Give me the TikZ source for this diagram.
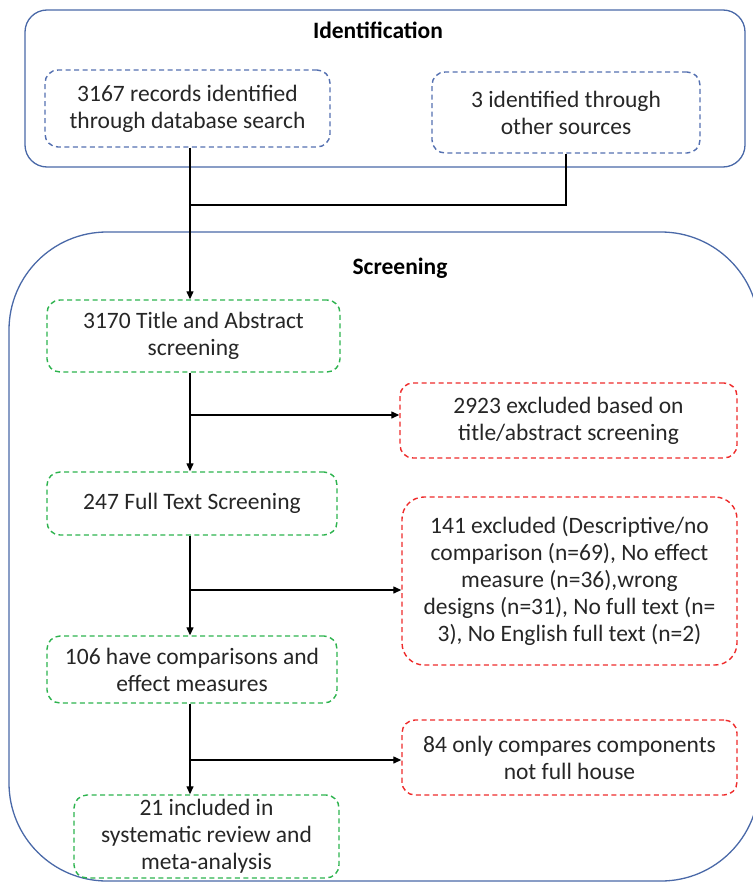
\documentclass[tikz,border=0pt]{standalone}
\usepackage{fontspec}
\setmainfont{Carlito}
\usetikzlibrary{arrows.meta}
\definecolor{frameblue}{HTML}{4A69A8}
\definecolor{dashblue}{HTML}{5470B0}
\definecolor{dashgreen}{HTML}{2DB34E}
\definecolor{dashred}{HTML}{EE2B2B}
\tikzset{
  frame/.style={draw=frameblue, line width=1.3pt},
  title/.style={font=\fontsize{23.5}{27}\selectfont\bfseries},
  box/.style={line width=1.4pt, dash pattern=on 5pt off 3.5pt, rounded corners=13pt,
    align=center, inner sep=0pt, font=\fontsize{23.5}{27}\selectfont, text=black!85},
  bluebox/.style={box, draw=dashblue},
  greenbox/.style={box, draw=dashgreen},
  redbox/.style={box, draw=dashred},
  conn/.style={line width=1.3pt, black},
  arr/.style={conn, -{Triangle[length=8pt,width=7pt]}},
}
\begin{document}
\begin{tikzpicture}[x=1pt,y=-1pt]
\useasboundingbox (0,0) rectangle (752,883);
% frames
\draw[frame, rounded corners=22pt] (25,10) rectangle (745,167);
\draw[frame, rounded corners=98pt] (9,232) rectangle (759,881);
\node[title] (tid) at (378,30) {Identification};
\node[title] (tsc) at (400,268) {Screening};
% boxes
\node[bluebox, minimum width=285pt, minimum height=77pt] (A) at (187.5,108.5) {3167 records identified\\through database search};
\node[bluebox, minimum width=268pt, minimum height=81pt] (B) at (566,112.5) {3 identified through\\other sources};
\node[greenbox, minimum width=293pt, minimum height=72pt] (S1) at (193.5,336) {3170 Title and Abstract\\screening};
\node[redbox, minimum width=337pt, minimum height=75pt] (E1) at (568.5,420.5) {2923 excluded based on\\title/abstract screening};
\node[greenbox, minimum width=290pt, minimum height=63pt] (S2) at (192,503.5) {247 Full Text Screening};
\node[redbox, minimum width=335pt, minimum height=168pt, rounded corners=22pt] (E2) at (569.5,581) {141 excluded (Descriptive/no\\comparison (n=69), No effect\\measure (n=36),wrong\\designs (n=31), No full text (n=\\3), No English full text (n=2)};
\node[greenbox, minimum width=290pt, minimum height=67pt] (S3) at (192,669.5) {106 have comparisons and\\effect measures};
\node[redbox, minimum width=335pt, minimum height=75pt] (E3) at (569.5,757.5) {84 only compares components\\not full house};
\node[greenbox, minimum width=265pt, minimum height=83pt] (S4) at (206.5,836.5) {21 included in\\systematic review and\\meta-analysis};
% junctions
\coordinate (j0) at (190,205);
\coordinate (b1) at (190,415);
\coordinate (b2) at (190,590);
\coordinate (b3) at (190,760);
% connectors
\draw[conn] (A.south -| j0) -- (j0);
\draw[conn] (B.south) |- (j0);
\draw[arr] (j0) -- (S1.north -| j0);
\draw[arr] (S1.south -| j0) -- (S2.north -| j0);
\draw[arr] (b1) -- (E1.west |- b1);
\draw[arr] (S2.south -| j0) -- (S3.north -| j0);
\draw[arr] (b2) -- (E2.west |- b2);
\draw[arr] (S3.south -| j0) -- (S4.north -| j0);
\draw[arr] (b3) -- (E3.west |- b3);
\end{tikzpicture}
\end{document}
